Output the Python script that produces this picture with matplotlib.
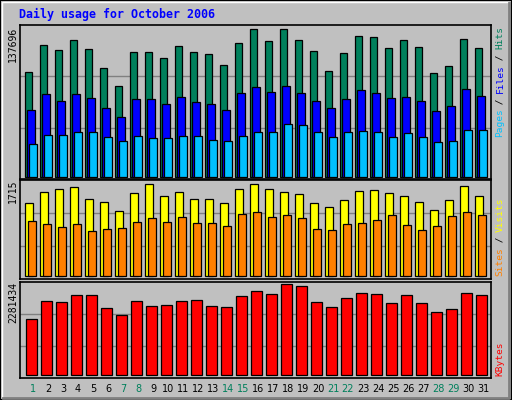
import matplotlib
matplotlib.use("Agg")
import matplotlib.pyplot as plt
from matplotlib.patches import Rectangle

days = list(range(1, 32))
weekend_days = [1, 7, 8, 14, 15, 21, 22, 28, 29]
hits = [97500,122700,118060,127400,119000,101240,84420,116190,116190,110580,121800,116190,114320,104040,124600,137696,
        126470,137696,127400,117120,98430,115260,131140,130210,119930,127400,120860,96570,103110,128340,119930]
files = [61990,76940,70400,76940,73200,63860,55450,72270,72270,67600,74140,69460,67600,61990,77880,83480,
         78810,84420,77880,70400,63860,72270,80680,77880,73200,74140,70400,61050,65730,81610,75070]
pages = [30220,38630,38630,41430,41430,36760,33020,37690,35820,35820,37690,37690,33950,33020,37690,41430,
         41430,48910,47970,41430,36760,41430,42360,41430,36760,40500,36760,32080,33020,43300,43300]
visits = [1359,1565,1621,1659,1434,1378,1210,1547,1715,1490,1565,1434,1434,1359,1621,1715,
          1621,1565,1528,1359,1285,1416,1584,1603,1547,1490,1378,1229,1416,1677,1490]
sites = [1023,967,910,967,836,873,892,1004,1079,1004,1098,985,985,929,1154,1191,
         1098,1135,1079,873,854,967,985,1041,1135,948,854,929,1116,1191,1135]
kbytes = [1412300,1863600,1830200,2005700,2005700,1679800,1504300,1863600,1729900,1755000,1863600,1888700,1729900,
          1704800,1980600,2106000,2030800,2281434,2231300,1830200,1704800,1930500,2055800,2030800,1805100,2005700,
          1805100,1579500,1654700,2055800,2005700]

W, H = 512, 400
BG = "#C0C0C0"
fig = plt.figure(figsize=(W/100, H/100), dpi=100)
fig.patch.set_facecolor(BG)
MONO = "DejaVu Sans Mono"

def fx(px): return px / W
def fy(py): return 1 - py / H

# outer frame
fig.add_artist(Rectangle((0, 0), 1, 1, transform=fig.transFigure, fill=False, ec="black", lw=1.5))
fig.add_artist(plt.Line2D([fx(2), fx(2), fx(508)], [fy(397), fy(2), fy(2)], transform=fig.transFigure, color="white", lw=1))
fig.add_artist(plt.Line2D([fx(3), fx(509), fx(509)], [fy(398), fy(398), fy(3)], transform=fig.transFigure, color="#808080", lw=2))

def panel(top, bot, base, maxpx, maxval):
    ax = fig.add_axes([fx(20), fy(bot), fx(491) - fx(20), (bot - top) / H])
    ax.set_facecolor(BG)
    s = maxval / (base - maxpx)
    ax.set_ylim(-(bot - base) * s, maxval + (maxpx - top) * s)
    ax.set_xlim(20, 491)
    for f in (1/3, 2/3):
        ax.plot([0, 1], [f, f], transform=ax.transAxes, color="#808080", lw=1, zorder=0)
    ax.set_xticks([]); ax.set_yticks([])
    for sp in ax.spines.values():
        sp.set_color("black"); sp.set_linewidth(1.2)
    return ax

def bars(ax, vals, off, width, color):
    x = [25.3 + off + 15 * (d - 1) for d in days]
    ax.bar(x, vals, width=width, align="edge", color=color, edgecolor="black", linewidth=0.9, zorder=2)

ax1 = panel(25, 179, 176.7, 29.3, 137696)
bars(ax1, hits, 0, 7, "#00805C")
bars(ax1, files, 1.8, 7.5, "#0000FF")
bars(ax1, pages, 4, 7.3, "#00C0FF")

ax2 = panel(180, 279, 276, 184.3, 1715)
bars(ax2, visits, 0, 8, "#FFFF00")
bars(ax2, sites, 3, 8, "#FF8000")

ax3 = panel(282, 378, 375.3, 284.3, 2281434)
bars(ax3, kbytes, 0.7, 10.5, "#FF0000")

fig.text(fx(19), fy(14), "Daily usage for October 2006", color="#0000FF", fontsize=8.4,
         fontweight="bold", family=MONO, ha="left", va="center")

for lab, ytop in [("137696", 27), ("1715", 180), ("2281434", 282)]:
    fig.text(fx(13), fy(ytop), lab, rotation=90, ha="center", va="top", fontsize=7, family=MONO, color="black")

def vlabel(segs, ybottom):
    y = ybottom
    for txt, col in segs:
        fig.text(fx(500), fy(y), txt, rotation=90, ha="center", va="bottom", fontsize=6.8,
                 family=MONO, color=col)
        y -= 5.5 * len(txt)

vlabel([("Pages", "#00C0FF"), (" / ", "black"), ("Files", "#0000FF"), (" / ", "black"), ("Hits", "#00805C")], 137)
vlabel([("Sites", "#FF8000"), (" / ", "black"), ("Visits", "#FFFF00")], 276)
vlabel([("KBytes", "#FF0000")], 376)

for d in days:
    fig.text(fx(33 + 15 * (d - 1)), fy(389), str(d), ha="center", va="center", fontsize=7,
             family="DejaVu Sans", color="#00805C" if d in weekend_days else "black")

fig.savefig("out.png", dpi=100, facecolor=BG)
